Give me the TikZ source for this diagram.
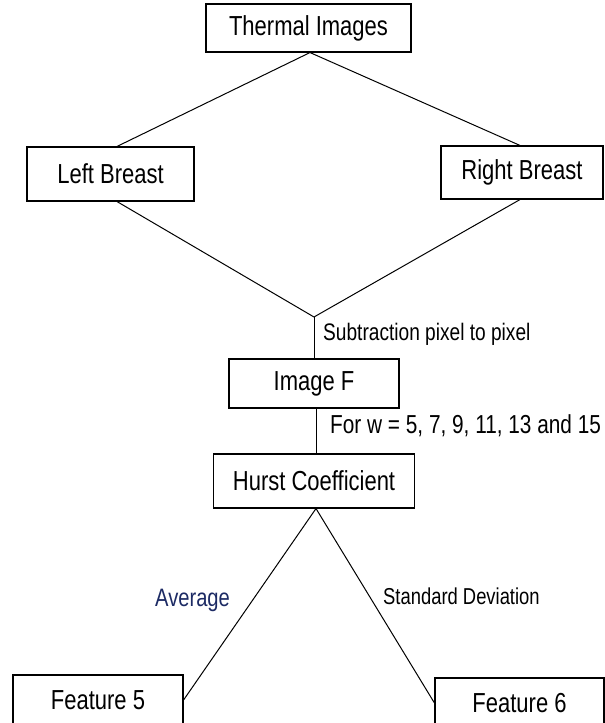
\documentclass[tikz,border=0pt]{standalone}
\usepackage{fontspec}
\setmainfont{Liberation Sans}[FakeStretch=0.8]
\definecolor{avgblue}{RGB}{28,42,100}
\begin{document}
\begin{tikzpicture}[x=1pt,y=-1pt,
  box/.style={draw=black,line width=1.1pt,inner sep=0pt,minimum width=#1,align=center,
              font=\fontsize{27.5}{31}\selectfont},
  conn/.style={draw=black,line width=1pt},
  lbl/.style={inner sep=0pt,anchor=base west}]
\useasboundingbox (0,0) rectangle (605,723);
\clip (0,0) rectangle (605,723);
\node[box=205pt,minimum height=48pt] (T) at (308.5,28) {Thermal Images};
\node[box=167pt,minimum height=54pt] (L) at (110.5,174) {Left Breast};
\node[box=162pt,minimum height=53pt] (R) at (522,172.5) {Right Breast};
\node[box=170pt,minimum height=49pt] (F) at (314,383.5) {Image F};
\node[box=201pt,minimum height=54pt] (H) at (314,481) {Hurst Coefficient};
\node[box=170pt,minimum height=50pt] (F5) at (98,700) {Feature 5};
\node[box=169pt,minimum height=50pt] (F6) at (519.5,703) {Feature 6};
\coordinate (apex) at (314,317);
\draw[conn] ([xshift=1.5pt]T.south) -- ([xshift=6.5pt]L.north);
\draw[conn] ([xshift=1.5pt]T.south) -- ([xshift=-2pt]R.north);
\draw[conn] ([xshift=6.5pt]L.south) -- (apex);
\draw[conn] ([xshift=-2pt]R.south) -- (apex);
\draw[conn] (apex) -- (apex |- F.north);
\draw[conn] ([xshift=2pt]F.south) -- ([xshift=2pt]F.south |- H.north);
\draw[conn] ([xshift=2pt]H.south) -- (F5.east);
\draw[conn] ([xshift=2pt]H.south) -- (F6.west);
\node[lbl,font=\fontsize{23.9}{27}\selectfont] (sub) at (323,340) {Subtraction pixel to pixel};
\node[lbl,font=\fontsize{26}{29}\selectfont] (forw) at (330,433) {For w = 5, 7, 9, 11, 13 and 15};
\node[lbl,font=\fontsize{25.2}{28}\selectfont,text=avgblue] (avg) at (155,606) {Average};
\node[lbl,font=\fontsize{23}{26}\selectfont] (sd) at (383,604) {Standard Deviation};
\end{tikzpicture}
\end{document}
